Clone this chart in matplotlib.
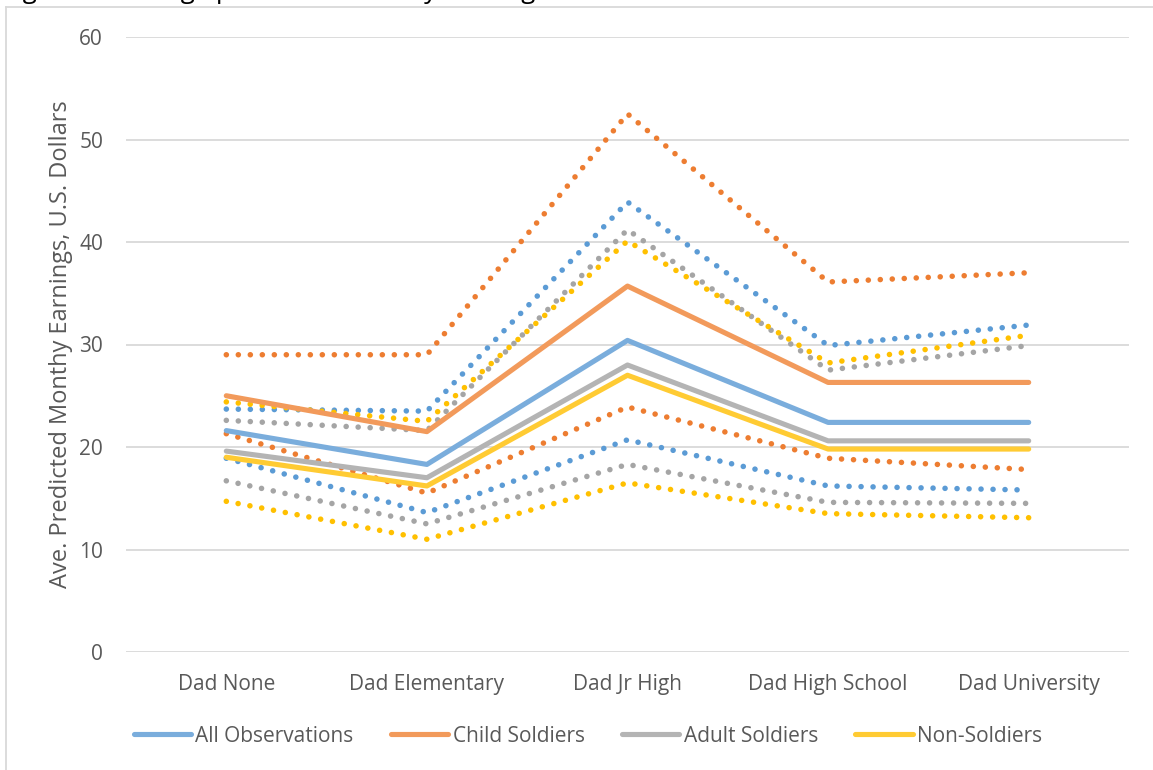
import matplotlib
matplotlib.use("Agg")
import matplotlib.pyplot as plt
from matplotlib.lines import Line2D

categories = ["Dad None", "Dad Elementary", "Dad Jr High", "Dad High School", "Dad University"]

series_names = ["All Observations", "Child Soldiers", "Adult Soldiers", "Non-Soldiers"]

all_obs = [21.6, 18.3, 30.4, 22.4, 22.4]
child = [25.0, 21.5, 35.7, 26.3, 26.3]
adult = [19.6, 17.0, 28.0, 20.6, 20.6]
non_sol = [19.0, 16.2, 27.0, 19.8, 19.8]

all_upper = [23.7, 23.5, 43.9, 29.9, 31.9]
all_lower = [18.9, 13.6, 20.7, 16.2, 15.8]
child_upper = [29.0, 29.0, 52.5, 36.1, 37.0]
child_lower = [21.3, 15.5, 23.9, 18.9, 17.8]
adult_upper = [22.6, 21.6, 41.2, 27.5, 29.9]
adult_lower = [16.7, 12.5, 18.3, 14.6, 14.5]
non_upper = [24.4, 22.5, 40.1, 28.2, 30.9]
non_lower = [14.7, 11.0, 16.5, 13.5, 13.1]

y_ticks = [0, 10, 20, 30, 40, 50, 60]

solid_colors = ["#7AADDC", "#F29A5B", "#B4B4B4", "#FFCB33"]
dot_colors = ["#5B9BD5", "#ED7D31", "#A5A5A5", "#FFC000"]

FONT = "Open Sans"
TXT = "#595959"

fig = plt.figure(figsize=(11.53, 7.70), dpi=100)
ax = fig.add_axes([126/1153, 1-652/770, (1129-126)/1153, (652-37)/770])

x = list(range(len(categories)))

# dotted confidence bounds
bounds = [(all_upper, all_lower), (child_upper, child_lower),
          (adult_upper, adult_lower), (non_upper, non_lower)]
for (up, lo), c in zip(bounds, dot_colors):
    for vals in (up, lo):
        ax.plot(x, vals, color=c, linewidth=4.0, linestyle=(0, (0.01, 2.15)),
                dash_capstyle="round", dash_joinstyle="round", zorder=3)

# solid means
for vals, name, c in zip([all_obs, child, adult, non_sol], series_names, solid_colors):
    ax.plot(x, vals, color=c, linewidth=3.7, solid_capstyle="round",
            solid_joinstyle="round", label=name, zorder=4)

ax.set_xlim(-0.5, len(categories) - 0.5)
ax.set_ylim(0, 60)
ax.set_yticks(y_ticks)
ax.set_yticklabels([str(t) for t in y_ticks])
ax.set_xticks(x)
ax.set_xticklabels(categories)
ax.grid(axis="y", color="#D9D9D9", linewidth=1.3)
ax.set_axisbelow(True)
for s in ax.spines.values():
    s.set_visible(False)
ax.tick_params(axis="both", length=0, labelsize=15, labelcolor=TXT)
ax.tick_params(axis="y", pad=16.5)
ax.tick_params(axis="x", pad=16)
for lab in ax.get_xticklabels() + ax.get_yticklabels():
    lab.set_fontfamily(FONT)

ax.set_ylabel("Ave. Predicted Monthy Earnings, U.S. Dollars", fontsize=17,
              color=TXT, fontfamily=FONT, labelpad=4.5)

leg = fig.legend(*ax.get_legend_handles_labels(), loc="center",
                 bbox_to_anchor=(588/1153, 1 - 736/770), ncol=4,
                 frameon=False, handlelength=2.75, handletextpad=0.2,
                 columnspacing=1.8, prop={"family": FONT, "size": 15})
for t in leg.get_texts():
    t.set_color(TXT)

# chart border (top and left visible)
fig.add_artist(Line2D([6/1153, 6/1153], [0, 1-7/770], color="#D9D9D9", linewidth=1.3))
fig.add_artist(Line2D([6/1153, 1], [1-7/770, 1-7/770], color="#D9D9D9", linewidth=1.3))

# title cut off by the top edge, as in the reference
fig.text(3/1153, 1 + 1.5/770, "Figure 3: Average predicted monthly earnings and father's education",
         fontsize=18.5, fontfamily=FONT, color="#000000", va="baseline", ha="left")

fig.savefig("out.png", dpi=100)
